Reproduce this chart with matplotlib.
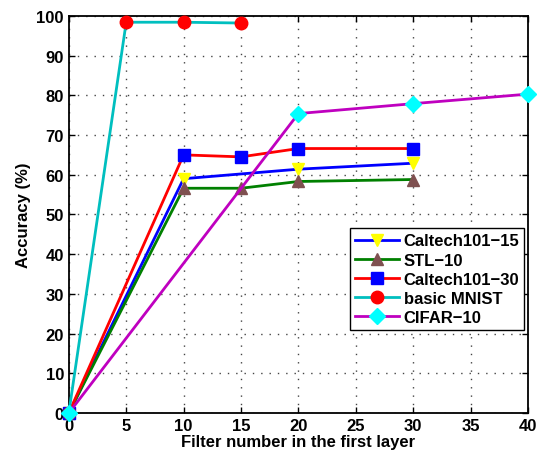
import numpy as np
import matplotlib
matplotlib.use('Agg')
import matplotlib.pyplot as plt

# data
x_c15 = [0, 10, 20, 30]
y_c15 = [0, 59.0, 61.4, 62.9]

x_stl = [0, 10, 15, 20, 30]
y_stl = [0, 56.6, 56.6, 58.3, 58.8]

x_c30 = [0, 10, 15, 20, 30]
y_c30 = [0, 65.0, 64.5, 66.6, 66.6]

x_mnist = [0, 5, 10, 15]
y_mnist = [0, 98.4, 98.4, 98.2]

x_cifar = [0, 20, 30, 40]
y_cifar = [0, 75.4, 77.9, 80.3]

xticks = [0, 5, 10, 15, 20, 25, 30, 35, 40]
yticks = [0, 10, 20, 30, 40, 50, 60, 70, 80, 90, 100]

plt.rcParams['font.family'] = ['Liberation Sans', 'DejaVu Sans']
plt.rcParams['font.weight'] = 'bold'

fig = plt.figure(figsize=(5.46, 4.56), dpi=100)
ax1 = fig.add_axes([0.126, 0.092, 0.841, 0.871])

lw = 2.0
ms = 9
ax1.plot(x_c15, y_c15, '-v', color='b', linewidth=lw, markersize=ms, clip_on=False,
         markerfacecolor='yellow', markeredgecolor='yellow', label='Caltech101\u221215')
ax1.plot(x_stl, y_stl, '-^', color='green', linewidth=lw, markersize=ms, clip_on=False,
         markerfacecolor='#7f5050', markeredgecolor='#7f5050', label='STL\u221210')
ax1.plot(x_c30, y_c30, '-s', color='r', linewidth=lw, markersize=ms - 1, clip_on=False,
         markerfacecolor='b', markeredgecolor='b', label='Caltech101\u221230')
ax1.plot(x_mnist, y_mnist, '-o', color='c', linewidth=lw, markersize=ms, clip_on=False,
         markerfacecolor='r', markeredgecolor='r', label='basic MNIST')
ax1.plot(x_cifar, y_cifar, '-D', color='m', linewidth=lw, markersize=ms - 1, clip_on=False,
         markerfacecolor='cyan', markeredgecolor='cyan', label='CIFAR\u221210')

ax1.set_xlim(0, 40)
ax1.set_ylim(0, 100)
ax1.set_xticks(xticks)
ax1.set_yticks(yticks)
ax1.tick_params(direction='in', top=True, right=True, labelsize=12, width=1, length=4)
for lbl in ax1.get_xticklabels() + ax1.get_yticklabels():
    lbl.set_fontweight('bold')
ax1.grid(True, linestyle=(0, (1, 5)), color='#444444', linewidth=1.0)
ax1.set_axisbelow(True)
for s in ax1.spines.values():
    s.set_linewidth(1.3)
    s.set_zorder(1.5)

ax1.set_xlabel('Filter number in the first layer', fontsize=12, fontweight='bold', labelpad=1)
ax1.set_ylabel('Accuracy (%)', fontsize=12, fontweight='bold', labelpad=4)

legend = ax1.legend(loc='upper right', bbox_to_anchor=(0.992, 0.465), fontsize=12,
                    handlelength=2.6, borderpad=0.3, labelspacing=0.25,
                    handletextpad=0.3, borderaxespad=0, fancybox=False, framealpha=1)
legend.get_frame().set_edgecolor('k')
legend.get_frame().set_linewidth(1.0)
for t in legend.get_texts():
    t.set_fontweight('bold')

plt.savefig('out.png', dpi=100)
